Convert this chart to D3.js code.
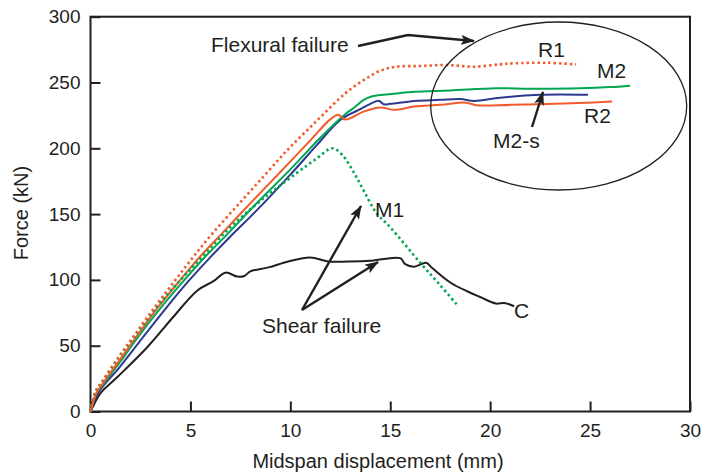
<!DOCTYPE html>
<html><head><meta charset="utf-8">
<script src="https://cdn.jsdelivr.net/npm/d3@7"></script>
<style>
body{margin:0;background:#fff;}
svg text{font-family:"Liberation Sans",Arial,sans-serif;fill:#231f20;}
</style></head>
<body><svg id="c" width="701" height="475"></svg>
<script>
// ---- data (displacement mm, force kN) ----
const xTicks = [0,5,10,15,20,25,30];
const yTicks = [0,50,100,150,200,250,300];
const seriesNames = ["R1","M1","R2","M2","M2-s","C"];
const R1 = [[0,0],[0.25,15],[0.6,23],[1.4,41],[2.2,58],[3.25,80],[4.2,99],[5.17,118],[6.2,137],[7.5,159],[8.8,181],[10,201],[11.2,219],[12.4,237],[13.1,246],[13.8,253],[14.5,259],[15.3,262],[16.5,262.5],[17.8,263.3],[19.2,262],[20.5,263.8],[21.2,264.6],[22.8,265],[24.3,263.8]];
const M1 = [[0,0],[0.25,15],[0.6,23],[1.4,41],[2.2,57],[3.3,79],[4.5,100],[5.75,120],[7,140],[8.5,160],[10.3,181],[11.3,192],[12.1,200],[12.6,195],[13.2,181],[13.7,167],[14.3,151],[15,140],[16.5,113],[17.5,96],[18.4,80]];
const R2 = [[0,0],[0.3,14],[0.6,21],[1.5,40],[2.3,57],[3.42,80],[4.5,100],[5.5,118],[6.5,134],[7.92,157],[9.5,182],[11,206],[12,222],[12.4,225.4],[12.75,221.8],[13.67,227.9],[14.5,231],[15.2,229.2],[16.2,231.7],[17.5,233],[18.8,234.7],[19.3,232.7],[21,233],[22.8,233.7],[24.5,234.5],[26.1,235.5]];
const M2 = [[0,0],[0.3,14],[0.6,20],[1.5,38],[2.3,55],[3.58,80],[4.7,100],[5.7,117],[6.8,134],[8.17,156],[10,184],[11.5,208],[12.67,225],[13.2,231],[13.67,236.8],[14.1,239.5],[14.5,240.5],[15.2,241.5],[16.2,243],[18,244],[20.3,245.6],[22,245.3],[24.5,245.6],[26,246.5],[27,247.6]];
const M2s = [[0,0],[0.42,15],[1.42,33],[2.4,52],[3.75,78],[4.9,99],[5.92,116],[7,133],[8.33,153],[10,180],[11.3,202],[12.5,221.6],[13.4,229],[14.25,235.5],[14.45,236],[14.67,233.5],[15,233.8],[16.2,236],[17.5,236.8],[18.5,237.5],[19.2,236],[20.5,238.5],[22.5,240.6],[24.9,240.6]];
const C = [[0,0],[0.2,6],[0.5,14],[1.4,27],[2.85,49],[4.15,72],[5.35,92],[6.15,99],[6.75,105.5],[7.35,102.5],[7.7,103],[8,106.5],[8.9,109.5],[9.9,114],[11,117],[11.9,114],[12.9,114],[14,114.5],[15.5,116.5],[15.75,112],[16.2,110],[16.8,113],[17.1,109],[18,98],[18.9,91],[19.5,87],[20.3,82],[20.7,82.5],[21.2,80]];

const svg = d3.select("#c");
const x = d3.scaleLinear().domain([0,30]).range([90.5,690]);
const y = d3.scaleLinear().domain([0,300]).range([411.5,16.7]);

// frame
svg.append("rect").attr("x",x(0)).attr("y",y(300)).attr("width",x(30)-x(0)).attr("height",y(0)-y(300))
  .attr("fill","none").attr("stroke","#231f20").attr("stroke-width",2);

const yAxis = svg.append("g").attr("transform",`translate(${x(0)},0)`)
  .call(d3.axisLeft(y).tickValues(yTicks).tickSizeInner(-10).tickSizeOuter(0).tickPadding(10));
const xAxis = svg.append("g").attr("transform",`translate(0,${y(0)})`)
  .call(d3.axisBottom(x).tickValues(xTicks).tickSizeInner(-10).tickSizeOuter(0).tickPadding(12));
[yAxis,xAxis].forEach(a=>{
  a.select(".domain").remove();
  a.selectAll("line").attr("stroke","#231f20").attr("stroke-width",2);
  a.selectAll("text").attr("font-size",19).attr("font-family","Liberation Sans, Arial, sans-serif").attr("fill","#231f20");
});

svg.append("text").attr("x",378).attr("y",468).attr("text-anchor","middle").attr("font-size",20).text("Midspan displacement (mm)");
svg.append("text").attr("transform","translate(28,213) rotate(-90)").attr("text-anchor","middle").attr("font-size",20).text("Force (kN)");

const line = d3.line().x(d=>x(d[0])).y(d=>y(d[1])).curve(d3.curveCatmullRom.alpha(0.5));
const styles = [
  {d:C, c:"#231f20", dash:null},
  {d:M2s, c:"#2b3990", dash:null},
  {d:M2, c:"#00a651", dash:null},
  {d:R2, c:"#f15a29", dash:null},
  {d:M1, c:"#00a651", dash:"2.4,3"},
  {d:R1, c:"#f15a29", dash:"2.4,3"}
];
styles.forEach(s=>{
  svg.append("path").attr("d",line(s.d)).attr("fill","none").attr("stroke",s.c)
    .attr("stroke-width", s.dash?2.6:2).attr("stroke-dasharray",s.dash);
});

// ellipse
svg.append("ellipse").attr("cx",558.7).attr("cy",106).attr("rx",128).attr("ry",84)
  .attr("fill","none").attr("stroke","#231f20").attr("stroke-width",1.3);

// arrow marker
const defs = svg.append("defs");
defs.append("marker").attr("id","ah").attr("viewBox","0 0 14 10").attr("refX",13).attr("refY",5)
  .attr("markerWidth",14).attr("markerHeight",10).attr("markerUnits","userSpaceOnUse").attr("orient","auto")
  .append("path").attr("d","M0,0 L14,5 L0,10 L3,5 Z").attr("fill","#231f20");

function arrow(pts){
  svg.append("path").attr("d",d3.line()(pts)).attr("fill","none").attr("stroke","#231f20")
    .attr("stroke-width",2.4).attr("marker-end","url(#ah)");
}
arrow([[358,46],[408,35],[474,41]]);
arrow([[532,127],[543,92]]);
arrow([[302,310],[361,206]]);
arrow([[302,310],[378,262]]);

const labels = [
  {t:"Flexural failure", x:211, y:52},
  {t:"R1", x:538, y:57},
  {t:"M2", x:597, y:78},
  {t:"R2", x:584, y:123},
  {t:"M2-s", x:493, y:148},
  {t:"M1", x:375, y:217},
  {t:"C", x:514, y:318},
  {t:"Shear failure", x:262, y:333}
];
labels.forEach(l=>svg.append("text").attr("x",l.x).attr("y",l.y).attr("font-size",21).text(l.t));
</script></body></html>
